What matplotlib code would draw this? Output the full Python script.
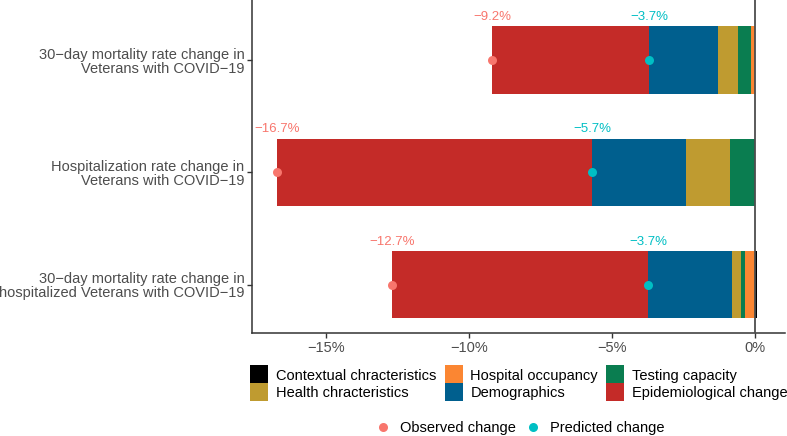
import matplotlib
matplotlib.use("Agg")
import matplotlib.pyplot as plt
import numpy as np
from matplotlib.lines import Line2D
from matplotlib.ticker import FuncFormatter

plt.rcParams['font.family'] = ['Liberation Sans', 'DejaVu Sans']

categories = ["30\u2212day mortality rate change in\nVeterans with COVID\u221219",
              "Hospitalization rate change in\nVeterans with COVID\u221219",
              "30\u2212day mortality rate change in\nhospitalized Veterans with COVID\u221219"]
contextual = [0.0, 0.0, 0.08]
hospital = [-0.14, 0.0, -0.35]
testing = [-0.45, -0.87, -0.14]
health = [-0.72, -1.54, -0.31]
demographics = [-2.39, -3.29, -2.94]
epidemiological = [-5.5, -11.0, -8.96]
observed = [-9.2, -16.7, -12.7]
predicted = [-3.7, -5.7, -3.74]
xticks = [-15, -10, -5, 0]

colors = {
    "Contextual chracteristics": "#000000",
    "Hospital occupancy": "#FB8632",
    "Testing capacity": "#0A7D50",
    "Health chracteristics": "#BF9B30",
    "Demographics": "#005F8E",
    "Epidemiological change": "#C42B28",
}
obs_col = "#F8766D"
pred_col = "#00BFC4"

W, H = 787, 436
fig = plt.figure(figsize=(W / 100, H / 100), dpi=100)
ax = fig.add_axes([252 / W, 1 - 333 / H, (785 - 252) / W, 333 / H])

ypos = np.array([2, 1, 0])
bw = 0.6
neg_series = [("Hospital occupancy", hospital), ("Testing capacity", testing),
              ("Health chracteristics", health), ("Demographics", demographics),
              ("Epidemiological change", epidemiological)]
left = np.zeros(3)
for name, vals in neg_series:
    v = np.array(vals)
    ax.barh(ypos, v, left=left, height=bw, color=colors[name], edgecolor='none', zorder=2)
    left = left + v
ax.barh(ypos, contextual, left=0, height=bw, color=colors["Contextual chracteristics"],
        edgecolor='none', zorder=2)

ax.axvline(0, color='#4D4D4D', lw=1.3, zorder=3)

ax.scatter(observed, ypos, s=42, color=obs_col, zorder=4, linewidths=0)
ax.scatter(predicted, ypos, s=42, color=pred_col, zorder=4, linewidths=0)
for y, o, p in zip(ypos, observed, predicted):
    ax.annotate(f"{o:.1f}%".replace('-', '\u2212'), (o, y + bw / 2), xytext=(0, 2.5),
                textcoords='offset points', ha='center', va='bottom', color=obs_col, fontsize=9.5)
    ax.annotate(f"{p:.1f}%".replace('-', '\u2212'), (p, y + bw / 2), xytext=(0, 2.5),
                textcoords='offset points', ha='center', va='bottom', color=pred_col, fontsize=9.5)

ax.set_xlim(-17.59, 1.05)
ax.set_ylim(-0.43, 2.536)
ax.set_xticks(xticks)
ax.xaxis.set_major_formatter(FuncFormatter(lambda v, p: f"{v:.0f}%".replace('-', '\u2212')))
ax.set_yticks(ypos)
ax.set_yticklabels(categories, ha='right', multialignment='right', linespacing=1.0)
for s in ['top', 'right']:
    ax.spines[s].set_visible(False)
for s in ['left', 'bottom']:
    ax.spines[s].set_color('#333333')
    ax.spines[s].set_linewidth(1.1)
ax.tick_params(axis='both', colors='#333333', labelcolor='#4D4D4D', labelsize=10.5, length=3.5, width=1.0)
ax.tick_params(axis='y', pad=2)
ax.tick_params(axis='x', pad=2)

order = ["Contextual chracteristics", "Health chracteristics", "Hospital occupancy",
         "Demographics", "Testing capacity", "Epidemiological change"]
handles = [Line2D([], [], marker='s', ls='', markersize=13.4, markerfacecolor=colors[n],
                  markeredgewidth=0) for n in order]
fig.legend(handles, order, loc='center left', bbox_to_anchor=(250 / W, 1 - 384.4 / H), ncol=3,
           frameon=False, fontsize=10.5, handlelength=1.28, handleheight=0.7,
           handletextpad=0.5, columnspacing=0.55, labelspacing=0.25, borderaxespad=0, borderpad=0)

h2 = [Line2D([], [], marker='o', ls='', color=obs_col, markersize=6.5, markeredgewidth=0),
      Line2D([], [], marker='o', ls='', color=pred_col, markersize=6.5, markeredgewidth=0)]
fig.legend(h2, ["Observed change", "Predicted change"], loc='center left',
           bbox_to_anchor=(375.7 / W, 1 - 427.7 / H),
           ncol=2, frameon=False, fontsize=10.5, handlelength=1.0, handletextpad=0.67,
           columnspacing=0.67, borderaxespad=0, borderpad=0)

fig.savefig("out.png", dpi=100)
